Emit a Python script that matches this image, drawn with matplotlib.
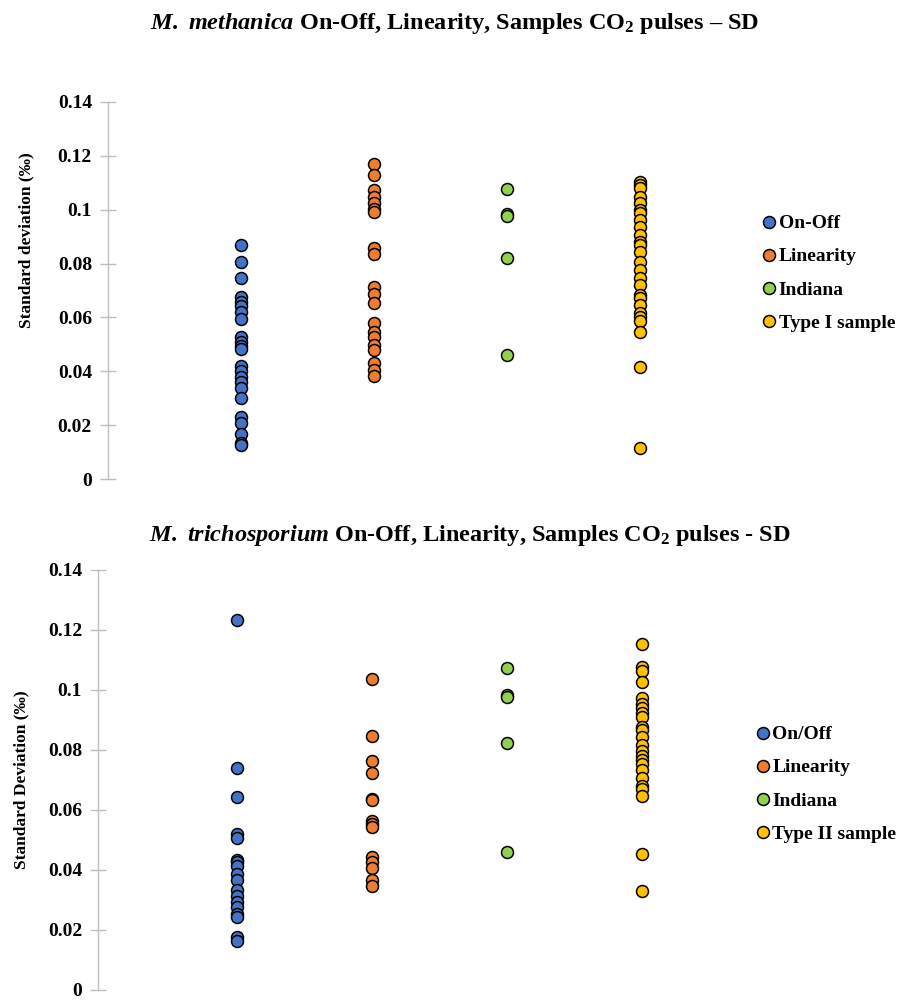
import numpy as np
import matplotlib
matplotlib.use("Agg")
import matplotlib.pyplot as plt
from matplotlib.lines import Line2D

# Fonts (Times-like, bold everywhere)
plt.rcParams['font.family'] = ['Liberation Serif', 'DejaVu Serif']
plt.rcParams['font.weight'] = 'bold'
plt.rcParams['mathtext.fontset'] = 'custom'
plt.rcParams['mathtext.rm'] = 'Liberation Serif:bold'
plt.rcParams['mathtext.it'] = 'Liberation Serif:italic:bold'
plt.rcParams['mathtext.bf'] = 'Liberation Serif:bold'

# Colours
BLUE = '#4472C4'
ORANGE = '#ED7D31'
GREEN = '#92D050'
YELLOW = '#FFC000'
AXIS_GREY = '#BFBFBF'

# ---- M. methanica data ----
top_labels = ['On-Off', 'Linearity', 'Indiana', 'Type I sample']
top_onoff = [0.0869, 0.0805, 0.0748, 0.0677, 0.0658, 0.0642, 0.0621, 0.0593,
             0.0528, 0.0510, 0.0495, 0.0482, 0.0420, 0.0400, 0.0380, 0.0361,
             0.0337, 0.0300, 0.0229, 0.0209, 0.0167, 0.0135, 0.0126]
top_linearity = [0.1170, 0.1129, 0.1073, 0.1048, 0.1024, 0.1002, 0.0993,
                 0.0857, 0.0836, 0.0712, 0.0687, 0.0652, 0.0578, 0.0547,
                 0.0528, 0.0498, 0.0479, 0.0432, 0.0405, 0.0382]
top_indiana = [0.1076, 0.0983, 0.0977, 0.0820, 0.0460]
top_type = [0.1104, 0.1092, 0.1080, 0.1048, 0.1024, 0.1000, 0.0989, 0.0962,
            0.0937, 0.0906, 0.0881, 0.0869, 0.0844, 0.0807, 0.0776, 0.0745,
            0.0720, 0.0683, 0.0671, 0.0646, 0.0616, 0.0600, 0.0585, 0.0547,
            0.0415, 0.0114]

# ---- M. trichosporium data ----
bot_labels = ['On/Off', 'Linearity', 'Indiana', 'Type II sample']
bot_onoff = [0.1233, 0.0739, 0.0645, 0.0521, 0.0508, 0.0434, 0.0428, 0.0414,
             0.0388, 0.0366, 0.0335, 0.0313, 0.0293, 0.0278, 0.0253, 0.0242,
             0.0176, 0.0165]
bot_linearity = [0.1038, 0.0846, 0.0763, 0.0725, 0.0637, 0.0632, 0.0563,
                 0.0555, 0.0543, 0.0445, 0.0428, 0.0408, 0.0368, 0.0346]
bot_indiana = [0.1075, 0.0983, 0.0977, 0.0822, 0.0460]
bot_type = [0.1153, 0.1076, 0.1065, 0.1027, 0.0972, 0.0955, 0.0939, 0.0925,
            0.0911, 0.0878, 0.0867, 0.0845, 0.0818, 0.0796, 0.0779, 0.0768,
            0.0752, 0.0735, 0.0708, 0.0681, 0.0669, 0.0648, 0.0455, 0.0329]

yticks = [0, 0.02, 0.04, 0.06, 0.08, 0.1, 0.12, 0.14]
ytick_labels = ['0', '0.02', '0.04', '0.06', '0.08', '0.1', '0.12', '0.14']
colors = [BLUE, ORANGE, GREEN, YELLOW]


def draw_panel(ax, series, labels, ylabel, label_xy, legend_anchor, xlim):
    for i, (vals, col, lab) in enumerate(zip(series, colors, labels)):
        ax.plot(np.full(len(vals), i + 1), vals, 'o', ms=8.6,
                mfc=col, mec='black', mew=1.1, label=lab, zorder=3)
    ax.set_xlim(*xlim)
    ax.set_ylim(0, 0.14)
    ax.set_yticks(yticks)
    ax.set_yticklabels(ytick_labels)
    ax.set_xticks([])
    for s in ['top', 'right', 'bottom']:
        ax.spines[s].set_visible(False)
    ax.spines['left'].set_color(AXIS_GREY)
    ax.spines['left'].set_linewidth(1.0)
    ax.tick_params(axis='y', direction='inout', length=11, width=1.0,
                   color=AXIS_GREY, labelsize=14, pad=6)
    for t in ax.get_yticklabels():
        t.set_fontweight('bold')
    ax.set_ylabel(ylabel, fontsize=12.5, fontweight='bold')
    ax.yaxis.set_label_coords(*label_xy)
    ax.patch.set_alpha(0)

    handles = [Line2D([], [], ls='', marker='o', ms=8.6, mfc=c, mec='black',
                      mew=1.1) for c in colors]
    leg = ax.legend(handles, labels, loc='upper left',
                    bbox_to_anchor=legend_anchor, bbox_transform=fig.transFigure,
                    frameon=False, handlelength=0.6, handletextpad=0.2,
                    labelspacing=0.8, borderpad=0,
                    prop={'weight': 'bold', 'size': 14})
    return leg


fig = plt.figure(figsize=(8.99, 10), dpi=100)

# Top panel
ax1 = fig.add_axes([0.120, 0.521, 0.740, 0.377])
draw_panel(ax1, [top_onoff, top_linearity, top_indiana, top_type], top_labels,
           'Standard deviation (‰)', (-0.111, 0.634), (0.838, 0.795), (0, 5))
fig.text(0.506, 0.977,
         r'$\mathit{M.\ methanica}$ On-Off, Linearity, Samples CO$_2$ pulses – SD',
         ha='center', va='center', fontsize=17.5, fontweight='bold')

# Bottom panel
ax2 = fig.add_axes([0.109, 0.010, 0.751, 0.420])
draw_panel(ax2, [bot_onoff, bot_linearity, bot_indiana, bot_type], bot_labels,
           'Standard Deviation (‰)', (-0.101, 0.5), (0.831, 0.284), (-0.03, 4.97))
fig.text(0.523, 0.464,
         r'$\mathit{M.\ trichosporium}$ On-Off, Linearity, Samples CO$_2$ pulses - SD',
         ha='center', va='center', fontsize=17.5, fontweight='bold')

fig.savefig('out.png', dpi=100)
